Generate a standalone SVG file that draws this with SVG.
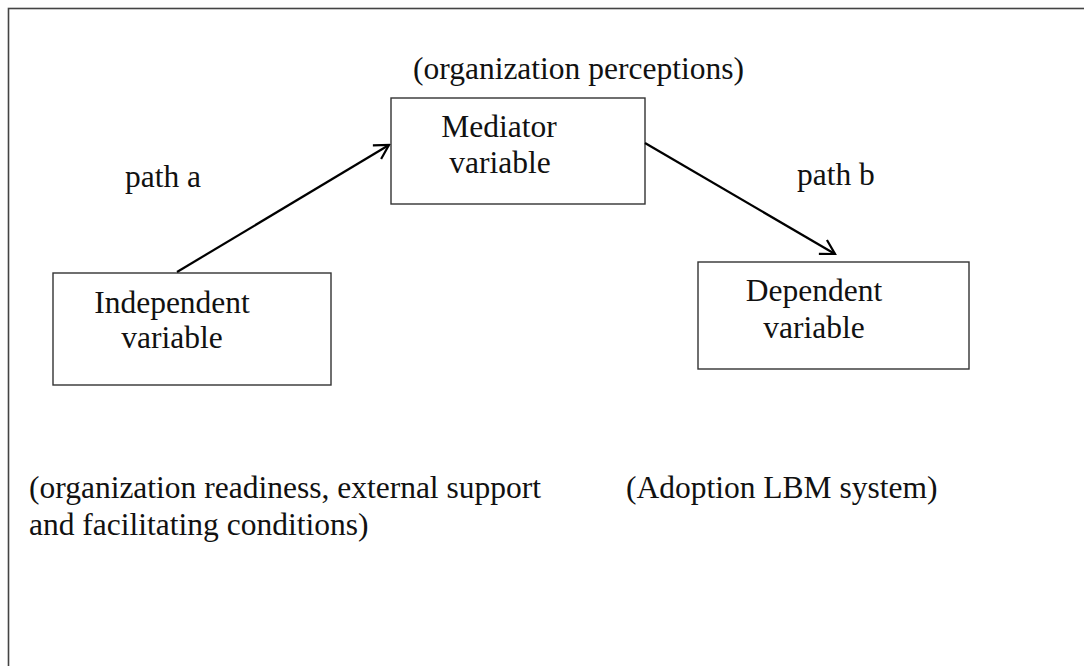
<svg xmlns="http://www.w3.org/2000/svg" width="1084" height="666" viewBox="0 0 1084 666">
  <style>
    .box { fill: #ffffff; stroke: #333333; stroke-width: 1.4; }
    .frame { fill: none; stroke: #444444; stroke-width: 1.6; }
    .label { font-family: "Liberation Serif", "Times New Roman", serif; font-size: 31.5px; fill: #111111; }
    .mid { text-anchor: middle; }
    .edge { fill: none; stroke: #000000; stroke-width: 2.2; }
  </style>
  <defs>
    <marker id="open-arrow" viewBox="-16 -10 18 20" refX="0" refY="0" markerWidth="18" markerHeight="20" markerUnits="userSpaceOnUse" orient="auto">
      <path d="M-14,-8 L0,0 L-14,8" fill="none" stroke="#000000" stroke-width="2.2"/>
    </marker>
  </defs>
  <rect width="1084" height="666" fill="#ffffff"/>

  <!-- outer page frame (open to the right and bottom) -->
  <rect class="frame" x="8.5" y="8.5" width="1100" height="700"/>

  <!-- mediator node -->
  <g id="mediator">
    <rect class="box" x="391" y="98" width="254" height="106"/>
    <text class="label mid" x="499" y="137">Mediator</text>
    <text class="label mid" x="500" y="173">variable</text>
  </g>

  <!-- independent node -->
  <g id="independent">
    <rect class="box" x="53" y="273" width="278" height="112"/>
    <text class="label mid" x="172" y="313">Independent</text>
    <text class="label mid" x="172" y="348">variable</text>
  </g>

  <!-- dependent node -->
  <g id="dependent">
    <rect class="box" x="698" y="262" width="271" height="107"/>
    <text class="label mid" x="814" y="301">Dependent</text>
    <text class="label mid" x="814" y="338">variable</text>
  </g>

  <!-- connectors -->
  <g id="connectors">
    <line class="edge" x1="177" y1="272" x2="389" y2="145" marker-end="url(#open-arrow)"/>
    <line class="edge" x1="645" y1="143" x2="835" y2="254" marker-end="url(#open-arrow)"/>
  </g>

  <!-- annotations -->
  <g id="annotations">
    <text class="label" x="413" y="79">(organization perceptions)</text>
    <text class="label" x="125" y="187">path a</text>
    <text class="label" x="797" y="185">path b</text>
    <text class="label" x="29" y="498">(organization readiness, external support</text>
    <text class="label" x="29" y="535">and facilitating conditions)</text>
    <text class="label" x="626" y="498">(Adoption LBM system)</text>
  </g>
</svg>
